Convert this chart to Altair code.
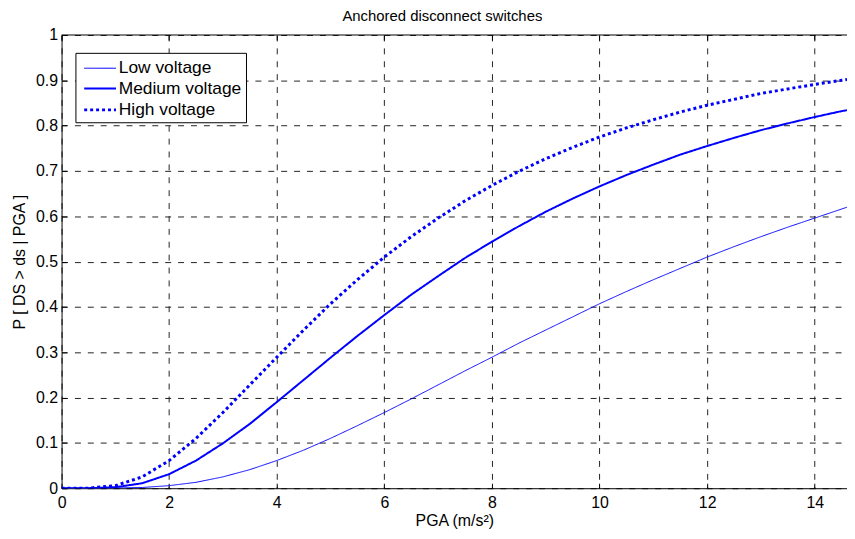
import altair as alt
import pandas as pd

pga = [0, 0.5, 1, 1.5, 2, 2.5, 3, 3.5, 4, 4.5, 5, 5.5, 6, 6.5, 7, 7.5, 8, 8.5,
       9, 9.5, 10, 10.5, 11, 11.5, 12, 12.5, 13, 13.5, 14, 14.5, 14.6]

low_v = [0, 0, 0.0002, 0.0016, 0.0056, 0.013, 0.025, 0.041, 0.061, 0.084, 0.110,
         0.138, 0.167, 0.197, 0.228, 0.259, 0.289, 0.320, 0.349, 0.378, 0.407,
         0.434, 0.460, 0.485, 0.510, 0.533, 0.555, 0.576, 0.596, 0.616, 0.620]

medium_v = [0, 0.0001, 0.0021, 0.011, 0.031, 0.061, 0.099, 0.142, 0.190, 0.239,
            0.288, 0.336, 0.382, 0.427, 0.468, 0.508, 0.544, 0.578, 0.610, 0.639,
            0.666, 0.691, 0.714, 0.736, 0.755, 0.773, 0.790, 0.805, 0.819, 0.832,
            0.834]

high_v = [0, 0.0002, 0.0056, 0.025, 0.061, 0.110, 0.167, 0.228, 0.289, 0.349,
          0.407, 0.460, 0.510, 0.555, 0.596, 0.634, 0.668, 0.699, 0.727, 0.752,
          0.775, 0.795, 0.813, 0.830, 0.845, 0.858, 0.871, 0.881, 0.891, 0.900,
          0.902]

series_names = ["Low voltage", "Medium voltage", "High voltage"]
x_ticks = [0, 2, 4, 6, 8, 10, 12, 14]
y_ticks = [0, 0.1, 0.2, 0.3, 0.4, 0.5, 0.6, 0.7, 0.8, 0.9, 1]
title_text = ["Anchored disconnect switches"]

rows = []
for name, vals in zip(series_names, [low_v, medium_v, high_v]):
    for xv, yv in zip(pga, vals):
        rows.append({"PGA": xv, "P": yv, "series": name})
df = pd.DataFrame(rows)

FONT = "Liberation Sans"
FS = 16
W, H = 792, 457

x_scale = alt.Scale(domain=[0, 14.6], nice=False, zero=False)
y_scale = alt.Scale(domain=[0, 1], nice=False)

legend = alt.Legend(
    title=None, orient="none", legendX=14, legendY=18,
    strokeColor="black", fillColor="white", padding=4,
    labelFont=FONT, labelFontSize=17.5, labelColor="black", labelOffset=14.7,
    symbolType="M-0.72,0H2.29", symbolSize=454, rowPadding=0, cornerRadius=0,
)

axis_style = dict(grid=True, gridDash=[6, 7], gridColor="#222", gridOpacity=1,
                  ticks=False, domainColor="black", labelFlush=False,
                  labelFont=FONT, labelFontSize=FS, labelColor="black",
                  titleFont=FONT, titleFontSize=FS, titleFontWeight="normal",
                  titleColor="black")

tick_style = dict(labels=False, ticks=True, tickSize=5, tickColor="black",
                  offset=-5, domain=False, grid=False, title=None,
                  minExtent=0, maxExtent=0)

lines = alt.Chart(df).mark_line(clip=True, strokeCap="butt").encode(
    x=alt.X("PGA:Q", scale=x_scale,
            axis=alt.Axis(values=x_ticks, title="PGA (m/s²)", labelPadding=6,
                          titlePadding=3, **axis_style)),
    y=alt.Y("P:Q", scale=y_scale,
            axis=alt.Axis(values=y_ticks, format="~g", title="P [ DS > ds | PGA ]",
                          labelPadding=4, titlePadding=8, **axis_style)),
    color=alt.Color("series:N", sort=series_names,
                    scale=alt.Scale(domain=series_names,
                                    range=["#0000ff", "#0000ff", "#0000ff"]),
                    legend=legend),
    strokeWidth=alt.StrokeWidth("series:N", sort=series_names,
                                scale=alt.Scale(domain=series_names, range=[1, 3, 3]),
                                legend=legend),
    strokeDash=alt.StrokeDash("series:N", sort=series_names,
                              scale=alt.Scale(domain=series_names,
                                              range=[[1, 0], [1, 0], [3, 3]]),
                              legend=legend),
    order=alt.Order("PGA:Q"),
)

# inside tick marks (MATLAB style): left and top
ticks_lt = alt.Chart(df).mark_point(opacity=0).encode(
    x=alt.X("PGA:Q", scale=x_scale,
            axis=alt.Axis(orient="top", values=x_ticks, **tick_style)),
    y=alt.Y("P:Q", scale=y_scale,
            axis=alt.Axis(orient="left", values=y_ticks, **tick_style)),
)
# inside tick marks: bottom
ticks_b = alt.Chart(df).mark_point(opacity=0).encode(
    x=alt.X("PGA:Q", scale=x_scale,
            axis=alt.Axis(orient="bottom", values=x_ticks, **tick_style)),
    y=alt.Y("P:Q", scale=y_scale, axis=None),
)

top_spine = alt.Chart(pd.DataFrame({"v": [1]})).mark_rule(color="black", strokeWidth=1).encode(
    y=alt.value(0)
)

title_mark = alt.Chart(pd.DataFrame({"t": title_text})).mark_text(
    font=FONT, fontSize=15, color="black", baseline="alphabetic", align="center"
).encode(text="t:N", x=alt.value(W / 2 - 12), y=alt.value(-14))

chart = alt.layer(lines, ticks_lt, ticks_b, top_spine, title_mark).resolve_axis(
    x="independent", y="independent"
).properties(
    width=W, height=H,
    background="white",
    autosize=alt.AutoSizeParams(type="none"),
    padding={"left": 54, "top": 25, "right": 0, "bottom": 49},
).configure_view(stroke=None)

chart.save("out.html", embed_options={"renderer": "svg", "actions": False})
